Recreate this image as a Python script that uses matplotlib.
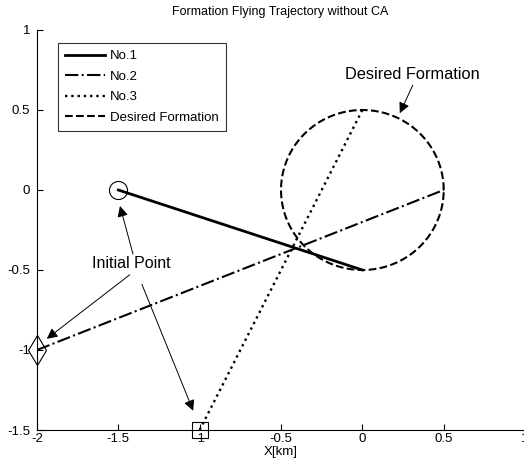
import numpy as np
import matplotlib
matplotlib.use("Agg")
import matplotlib.pyplot as plt

plt.rcParams['font.family'] = ['Liberation Sans', 'DejaVu Sans']

# Data
traj1_x = [-1.5, 0.0]
traj1_y = [0.0, -0.5]
traj2_x = [-2.0, 0.5]
traj2_y = [-1.0, 0.0]
traj3_x = [-1.0, 0.0]
traj3_y = [-1.5, 0.5]
circle_center = (0.0, 0.0)
circle_radius = 0.5
labels = ["No.1", "No.2", "No.3", "Desired Formation"]
xticks = [-2, -1.5, -1, -0.5, 0, 0.5, 1]
yticks = [-1.5, -1, -0.5, 0, 0.5, 1]

fig = plt.figure(figsize=(5.24, 4.73), dpi=100)
ax = fig.add_axes([37/524, 43/473, (524-37)/524 + 0.002, 400/473])

ax.plot(traj1_x, traj1_y, '-', color='k', lw=2.0, label=labels[0])
ax.plot(traj2_x, traj2_y, '-.', color='k', lw=1.5, label=labels[1])
ax.plot(traj3_x, traj3_y, ':', color='k', lw=1.7, label=labels[2])
theta = np.linspace(0, 2*np.pi, 400)
ax.plot(circle_center[0] + circle_radius*np.cos(theta),
        circle_center[1] + circle_radius*np.sin(theta),
        '--', color='k', lw=1.5, label=labels[3])

ax.plot(traj1_x[0], traj1_y[0], 'o', mfc='none', mec='k', ms=13, mew=0.8)
ax.plot(traj2_x[0], traj2_y[0], 'd', mfc='none', mec='k', ms=15, mew=0.8, clip_on=False)
ax.plot(traj3_x[0], traj3_y[0], 's', mfc='none', mec='k', ms=11, mew=0.8, clip_on=False)

ap = dict(arrowstyle='-|>', color='k', lw=0.7, mutation_scale=16, shrinkA=0, shrinkB=0)
ax.text(-1.42, -0.46, "Initial Point", ha='center', va='center', fontsize=11.5)
ax.annotate("", xy=(-1.49, -0.10), xytext=(-1.41, -0.40), arrowprops=ap)
ax.annotate("", xy=(-1.94, -0.93), xytext=(-1.43, -0.53), arrowprops=ap)
ax.annotate("", xy=(-1.04, -1.38), xytext=(-1.355, -0.59), arrowprops=ap)

ax.text(0.306, 0.72, "Desired Formation", ha='center', va='center', fontsize=11.8)
ax.annotate("", xy=(0.23, 0.48), xytext=(0.31, 0.655), arrowprops=ap)

ax.set_xlim(-2, 1)
ax.set_ylim(-1.5, 1)
ax.set_xticks(xticks)
ax.set_xticklabels(["-2", "-1.5", "-1", "-0.5", "0", "0.5", "1"])
ax.set_yticks(yticks)
ax.set_yticklabels(["-1.5", "-1", "-0.5", "0", "0.5", "1"])
ax.tick_params(direction='in', length=4, labelsize=9.5)
ax.tick_params(axis='y', pad=5)
ax.tick_params(axis='x', pad=2)
for s in ['top', 'right']:
    ax.spines[s].set_visible(False)
for s in ['left', 'bottom']:
    ax.spines[s].set_linewidth(0.8)

ax.set_xlabel("X[km]", fontsize=9.5, labelpad=1)
fig.text(0.5 + 37/524/2, 1 - 12/473, "Formation Flying Trajectory without CA",
         ha='center', va='center', fontsize=9)

leg = ax.legend(loc='upper left', bbox_to_anchor=(21/487, 1 - 13/400), fontsize=9.5,
                frameon=True, fancybox=False, edgecolor='k', handlelength=3.0,
                borderaxespad=0, labelspacing=0.62, handletextpad=0.4, borderpad=0.55)
leg.get_frame().set_linewidth(0.8)

fig.savefig("out.png", dpi=100)
